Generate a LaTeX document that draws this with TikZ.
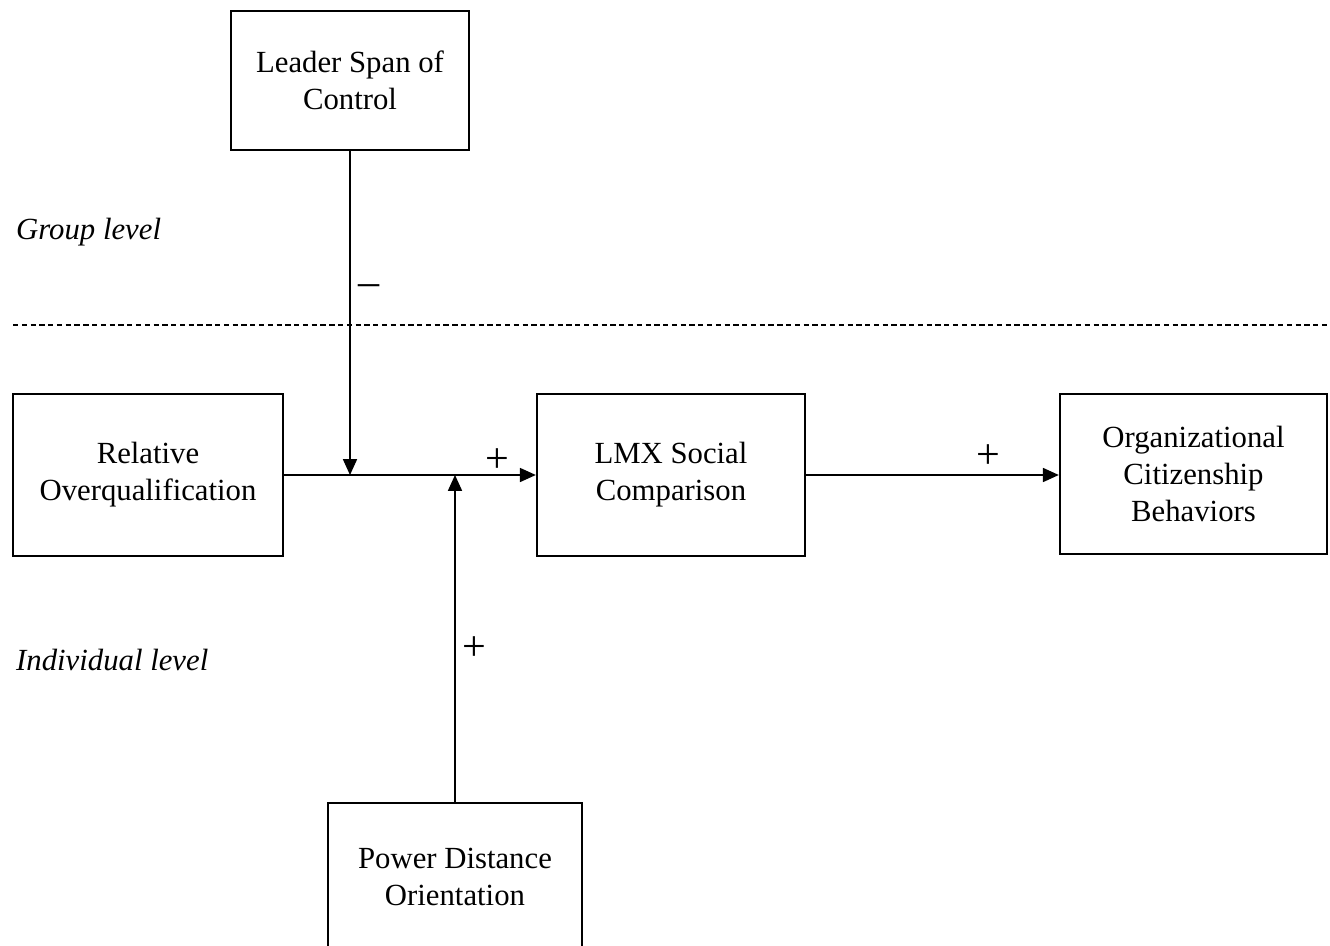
\documentclass[tikz,border=0pt]{standalone}
\usepackage{fontspec}
\setmainfont{Liberation Serif}
\usetikzlibrary{arrows.meta}

\begin{document}
\begin{tikzpicture}[x=0.02cm, y=-0.02cm,
    font=\fontsize{17.5}{21}\selectfont,
    main/.style = {draw, line width=1.4pt, align=center, inner sep=0pt},
    link/.style = {line width=0.7pt, -{Triangle[length=9pt, width=8pt]}},
    sign/.style = {font=\fontsize{24}{24}\selectfont},
    level/.style = {anchor=west, font=\fontsize{17.5}{21}\selectfont\itshape}]
    \useasboundingbox (0,0) rectangle (1330,946);
    \clip (0,0) rectangle (1330,946);

    \node[main, minimum width=4.76cm, minimum height=2.78cm] (span) at (350,80.5) {Leader Span of\\Control};
    \node[main, minimum width=5.4cm, minimum height=3.24cm] (rel) at (148,475) {Relative\\Overqualification};
    \node[main, minimum width=5.36cm, minimum height=3.24cm] (lmx) at (671,475) {LMX Social\\Comparison};
    \node[main, minimum width=5.34cm, minimum height=3.2cm] (ocb) at (1193.5,474) {Organizational\\Citizenship\\Behaviors};
    \node[main, minimum width=5.08cm, minimum height=2.96cm] (pdo) at (455,877) {Power Distance\\Orientation};

    \coordinate (m1) at (span.south |- rel.east);
    \coordinate (m2) at (pdo.north |- rel.east);

    % levels
    \draw[dashed, line width=0.6pt, dash pattern=on 3pt off 2pt] (13,325) -- (1330,325);
    \node[level] (grp) at (10,232) {Group level};
    \node[level] (ind) at (10,660) {Individual level};

    \draw[link] (rel.east) -- (lmx.west);
    \draw[link] (lmx.east) -- (lmx.east -| ocb.west);
    \draw[link] (span.south) -- (m1);
    \draw[link] (pdo.north) -- (m2);

    \node[sign] (neg) at (369,290) {--};
    \node[sign] (pos1) at (497,461) {+};
    \node[sign] (pos2) at (988,457) {+};
    \node[sign] (pos3) at (474,649) {+};
\end{tikzpicture}
\end{document}
